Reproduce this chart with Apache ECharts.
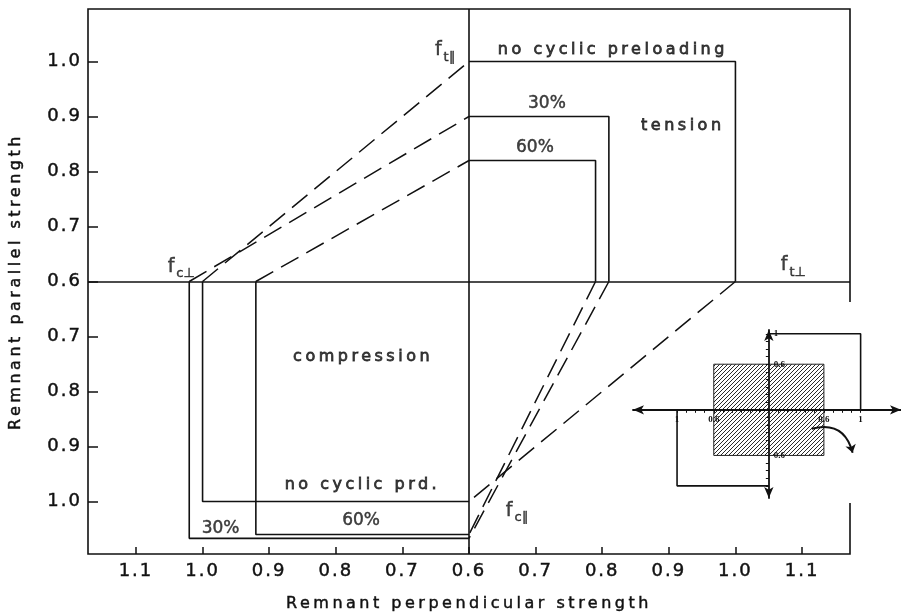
<!DOCTYPE html>
<html>
<head>
<meta charset="utf-8">
<script src="https://cdn.jsdelivr.net/npm/echarts@6/dist/echarts.min.js"></script>
<style>
  html, body { margin: 0; padding: 0; background: #fff; }
  #chart { width: 901px; height: 612px; }
</style>
</head>
<body>
<div id="chart"></div>
<script>
// Remnant strengths after cyclic preloading. Both axes are folded at 0.6:
// tension is drawn up/right of the fold, compression down/left of it.
const FOLD = 0.6;

const cases = ['no cyclic preloading', '30%', '60%'];
// tension quadrant
const tensionParallel = [1.0, 0.9, 0.82];        // f_t∥
const tensionPerp = [1.0, 0.81, 0.79];           // f_t⊥
// compression quadrant
const compressionParallel = [1.0, 1.067, 1.06];  // f_c∥
const compressionPerp = [1.0, 1.02, 0.92];       // f_c⊥

// tick labels (strength values) on each side of the fold
const perpTicksLeft = [1.1, 1.0, 0.9, 0.8, 0.7];
const perpTicksRight = [0.7, 0.8, 0.9, 1.0, 1.1];
const parTicksUp = [1.0, 0.9, 0.8, 0.7];
const parTicksDown = [0.7, 0.8, 0.9, 1.0];

// small sketch of the loading plane
const insetCore = 0.6;
const insetOuter = 1;
const insetTicks = [-1, -0.9, -0.8, -0.7, -0.6, -0.5, -0.4, -0.3, -0.2, -0.1,
                    0.1, 0.2, 0.3, 0.4, 0.5, 0.6, 0.7, 0.8, 0.9, 1];
const insetXLabels = [-1, -0.6, 0.6, 1];
const insetYLabels = [-0.6, 0.6, 1];

// wide typewriter-like lettering for the larger texts
const SPACING = { '16': 3.5, '18': 2 };
function applySpacing(ctx) {
  if (!('letterSpacing' in ctx)) return;
  const m = /(\d+(?:\.\d+)?)px/.exec(ctx.font);
  const s = m ? SPACING[m[1]] : 0;
  ctx.letterSpacing = (s || 0) + 'px';
}
const proto = CanvasRenderingContext2D.prototype;
const baseFillText = proto.fillText;
const baseStrokeText = proto.strokeText;
const baseMeasure = proto.measureText;
proto.fillText = function (t, x, y, w) {
  applySpacing(this);
  return w === undefined ? baseFillText.call(this, t, x, y) : baseFillText.call(this, t, x, y, w);
};
proto.strokeText = function (t, x, y, w) {
  applySpacing(this);
  return w === undefined ? baseStrokeText.call(this, t, x, y) : baseStrokeText.call(this, t, x, y, w);
};
proto.measureText = function (t) {
  applySpacing(this);
  return baseMeasure.call(this, t);
};

const INK = '#111';
const FONT = 'DejaVu Sans';
// slightly heavier strokes for the lettering
const heavy = { textBorderColor: INK, textBorderWidth: 0.45 };
const heavyWide = { textBorderColor: INK, textBorderWidth: 0.8 };

const side = (s, dir) => dir * (s - FOLD);
const xTickPos = [...perpTicksLeft.map(s => side(s, -1)), 0, ...perpTicksRight.map(s => side(s, 1))];
const yTickPos = [...parTicksUp.map(s => side(s, 1)), 0, ...parTicksDown.map(s => side(s, -1))];
const foldLabel = v => (Math.abs(v) + FOLD).toFixed(1);

const series = [];
const solid = { color: INK, width: 1.6, type: 'solid' };
const dashed = { color: INK, width: 1.5, type: [20, 9] };
function path(name, pts, style) {
  series.push({
    name, type: 'line', xAxisIndex: 0, yAxisIndex: 0, data: pts,
    symbol: 'none', silent: true, lineStyle: style, z: 3
  });
}
cases.forEach((c, i) => {
  const tx = side(tensionPerp[i], 1), ty = side(tensionParallel[i], 1);
  const cx = side(compressionPerp[i], -1), cy = side(compressionParallel[i], -1);
  path(c + ' tension', [[0, ty], [tx, ty], [tx, 0]], solid);
  path(c + ' compression', [[0, cy], [cx, cy], [cx, 0]], solid);
  path(c + ' link t', [[tx, 0], [0, cy]], dashed);
  path(c + ' link c', [[cx, 0], [0, ty]], dashed);
});

// fold lines (perpendicular 0.6 and parallel 0.6)
series.push({
  type: 'line', xAxisIndex: 0, yAxisIndex: 0, data: [], silent: true,
  markLine: {
    silent: true, symbol: 'none', label: { show: false },
    lineStyle: { color: INK, width: 1.6, type: 'solid' },
    data: [{ xAxis: 0 }, { yAxis: 0 }]
  }
});

// text annotations, anchored in folded units
const plainNotes = [
  [0.216, 0.421, 'no cyclic preloading', 16],
  [0.117, 0.323, '30%', 17],
  [0.099, 0.243, '60%', 17],
  [0.321, 0.283, 'tension', 16],
  [-0.159, -0.137, 'compression', 16],
  [-0.160, -0.370, 'no cyclic prd.', 16],
  [-0.373, -0.450, '30%', 17],
  [-0.162, -0.435, '60%', 17]
];
const strengthNotes = [
  [-0.036, 0.417, 't∥'],
  [-0.432, 0.023, 'c⊥'],
  [0.487, 0.026, 't⊥'],
  [0.072, -0.421, 'c∥']
];
series.push({
  type: 'scatter', xAxisIndex: 0, yAxisIndex: 0, silent: true, z: 6,
  symbolSize: 1, itemStyle: { color: 'transparent' },
  data: plainNotes.map(n => ({
    value: [n[0], n[1]],
    label: Object.assign({ show: true, position: 'inside', formatter: n[2], color: INK,
             fontFamily: FONT, fontSize: n[3] }, n[3] === 16 ? heavyWide : heavy)
  }))
});
series.push({
  type: 'scatter', xAxisIndex: 0, yAxisIndex: 0, silent: true, z: 6,
  symbolSize: 1, itemStyle: { color: 'transparent' },
  data: strengthNotes.map(n => ({
    value: [n[0], n[1]],
    label: {
      show: true, position: 'inside', formatter: '{f|f}{s|' + n[2] + '}',
      rich: {
        f: Object.assign({ fontFamily: FONT, fontSize: 19, color: INK, verticalAlign: 'bottom', padding: [0, 2, 4, 0] }, heavy),
        s: Object.assign({ fontFamily: FONT, fontSize: 13, color: INK, verticalAlign: 'bottom' }, heavy)
      }
    }
  }))
});

// sketch: hatched core, outer outlines, curved arrow
function hatchTile() {
  const c = document.createElement('canvas');
  c.width = c.height = 4;
  const g = c.getContext('2d');
  g.strokeStyle = '#2a2a2a';
  g.lineWidth = 1;
  g.beginPath();
  g.moveTo(0, 4); g.lineTo(4, 0);
  g.moveTo(-1, 1); g.lineTo(1, -1);
  g.moveTo(3, 5); g.lineTo(5, 3);
  g.stroke();
  return c;
}
const hatch = hatchTile();
series.push({
  type: 'custom', xAxisIndex: 1, yAxisIndex: 1, silent: true, z: 2,
  data: [[-insetCore, -insetCore, insetCore, insetCore]],
  encode: { x: [0, 2], y: [1, 3] },
  renderItem(params, api) {
    const a = api.coord([api.value(0), api.value(1)]);
    const b = api.coord([api.value(2), api.value(3)]);
    return {
      type: 'rect',
      shape: { x: Math.min(a[0], b[0]), y: Math.min(a[1], b[1]),
               width: Math.abs(b[0] - a[0]), height: Math.abs(b[1] - a[1]) },
      style: { fill: { image: hatch, repeat: 'repeat' }, stroke: '#222', lineWidth: 1 }
    };
  }
});
const insetLine = { color: INK, width: 1.6, type: 'solid' };
series.push({
  type: 'line', xAxisIndex: 1, yAxisIndex: 1, symbol: 'none', silent: true, z: 3,
  data: [[0, insetOuter], [insetOuter, insetOuter], [insetOuter, 0]], lineStyle: insetLine
});
series.push({
  type: 'line', xAxisIndex: 1, yAxisIndex: 1, symbol: 'none', silent: true, z: 3,
  data: [[-insetOuter, 0], [-insetOuter, -insetOuter], [0, -insetOuter]], lineStyle: insetLine
});
series.push({
  type: 'lines', coordinateSystem: 'cartesian2d', xAxisIndex: 1, yAxisIndex: 1,
  silent: true, z: 4, symbol: ['none', 'arrow'], symbolSize: 8,
  lineStyle: { color: INK, width: 2, curveness: 0.5, opacity: 1 },
  data: [{ coords: [[0.467, -0.25], [0.913, -0.566]] }]
});

const tickStyle = { color: INK, width: 1.5 };
const insetLabel = { fontFamily: 'Liberation Serif', fontSize: 9, fontWeight: 'bold', color: INK };

// sketch grid: x from -1.48 to 1.44, y from -1.16 to 1.05
const INSET = { left: 633, top: 330, width: 268, height: 168 };
const insetXMin = -1.48, insetXMax = 1.44, insetYMin = -1.16, insetYMax = 1.05;
// axes cross at the origin: shift them inward from the grid edges
const insetXOffset = -INSET.height * (0 - insetYMin) / (insetYMax - insetYMin);
const insetYOffset = -INSET.width * (0 - insetXMin) / (insetXMax - insetXMin);

const option = {
  animation: false,
  backgroundColor: '#fff',
  grid: [
    { left: 88, right: 51, top: 9, bottom: 58, show: true, borderColor: INK, borderWidth: 1.6,
      backgroundColor: 'transparent', outerBoundsMode: 'none', containLabel: false },
    { left: INSET.left, top: INSET.top, width: INSET.width, height: INSET.height, show: false,
      outerBoundsMode: 'none', containLabel: false }
  ],
  xAxis: [
    {
      gridIndex: 0, type: 'value', min: -0.572, max: 0.572,
      axisLine: { show: false, onZero: false }, splitLine: { show: false },
      axisTick: { inside: true, length: 7, customValues: xTickPos, lineStyle: tickStyle },
      axisLabel: Object.assign({ customValues: xTickPos, formatter: foldLabel, margin: 7,
                   fontFamily: FONT, fontSize: 18, color: INK }, heavy),
      name: 'Remnant perpendicular strength', nameLocation: 'middle', nameGap: 40,
      nameTextStyle: Object.assign({ fontFamily: FONT, fontSize: 16, color: INK }, heavy)
    },
    {
      gridIndex: 1, type: 'value', min: insetXMin, max: insetXMax, z: 5,
      position: 'bottom', offset: insetXOffset,
      axisLine: { onZero: false, symbol: ['arrow', 'arrow'], symbolSize: [7, 11],
                  lineStyle: { color: INK, width: 1.8 } },
      splitLine: { show: false },
      axisTick: { customValues: insetTicks, length: 3, lineStyle: { color: INK, width: 1 } },
      axisLabel: Object.assign({ customValues: insetXLabels, formatter: v => String(Math.abs(v)), margin: 5 }, insetLabel)
    }
  ],
  yAxis: [
    {
      gridIndex: 0, type: 'value', min: -0.4955, max: 0.4955,
      axisLine: { show: false, onZero: false }, splitLine: { show: false },
      axisTick: { inside: true, length: 10, customValues: yTickPos, lineStyle: tickStyle },
      axisLabel: Object.assign({ customValues: yTickPos, formatter: foldLabel, margin: 6,
                   fontFamily: FONT, fontSize: 18, color: INK }, heavy),
      name: 'Remnant parallel strength', nameLocation: 'middle', nameGap: 62,
      nameTextStyle: Object.assign({ fontFamily: FONT, fontSize: 16, color: INK }, heavy)
    },
    {
      gridIndex: 1, type: 'value', min: insetYMin, max: insetYMax, z: 5,
      position: 'left', offset: insetYOffset,
      axisLine: { onZero: false, symbol: ['arrow', 'arrow'], symbolSize: [7, 11],
                  lineStyle: { color: INK, width: 1.8 } },
      splitLine: { show: false },
      axisTick: { customValues: insetTicks, length: 3, lineStyle: { color: INK, width: 1 } },
      axisLabel: Object.assign({ customValues: insetYLabels, inside: true, formatter: v => String(Math.abs(v)), margin: 5 }, insetLabel)
    }
  ],
  graphic: [
    // the sketch interrupts the right frame edge
    { type: 'rect', z: 3, silent: true, shape: { x: 842, y: 302, width: 14, height: 201 }, style: { fill: '#fff' } }
  ],
  series
};

const chart = echarts.init(document.getElementById('chart'), null, { renderer: 'canvas' });
chart.setOption(option);
</script>
</body>
</html>
